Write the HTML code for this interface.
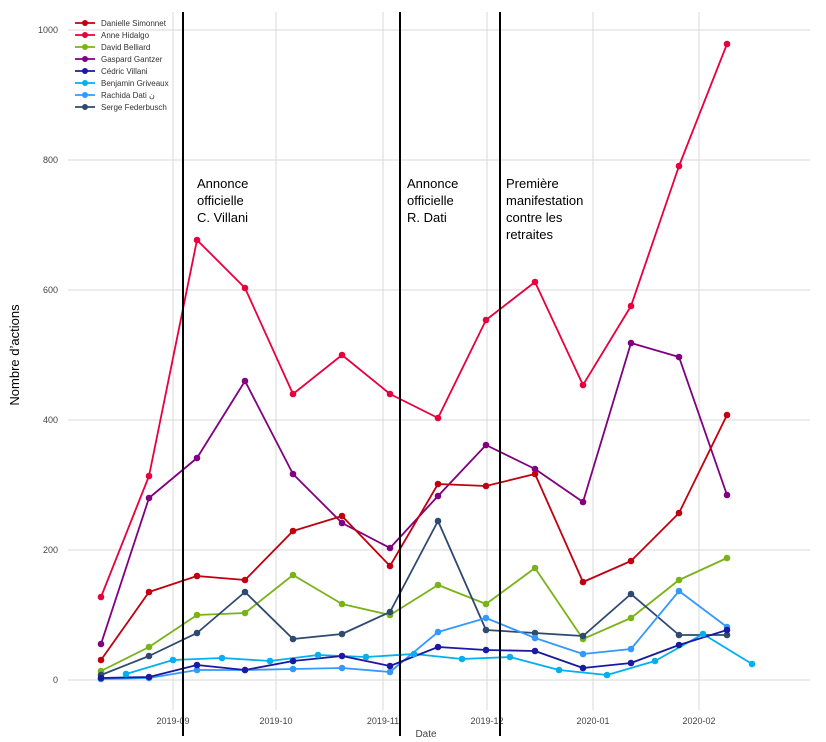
<!DOCTYPE html>
<html><head><meta charset="utf-8"><style>html,body{margin:0;padding:0;background:#fff}svg{display:block}</style></head>
<body>
<svg width="826" height="742" xmlns="http://www.w3.org/2000/svg" font-family="Liberation Sans, sans-serif">
<g stroke="#d9d9d9" stroke-width="1">
<line x1="68" y1="30" x2="810" y2="30"/><line x1="68" y1="160" x2="810" y2="160"/><line x1="68" y1="290" x2="810" y2="290"/><line x1="68" y1="420" x2="810" y2="420"/><line x1="68" y1="550" x2="810" y2="550"/><line x1="68" y1="680" x2="810" y2="680"/>
<line x1="173" y1="12" x2="173" y2="710"/><line x1="276" y1="12" x2="276" y2="710"/><line x1="383" y1="12" x2="383" y2="710"/><line x1="487" y1="12" x2="487" y2="710"/><line x1="593" y1="12" x2="593" y2="710"/><line x1="699" y1="12" x2="699" y2="710"/>
</g>
<g font-size="9" fill="#444" text-anchor="end">
<text x="58" y="33">1000</text><text x="58" y="163">800</text><text x="58" y="293">600</text><text x="58" y="423">400</text><text x="58" y="553">200</text><text x="58" y="683">0</text>
</g>
<g font-size="9" fill="#444" text-anchor="middle">
<text x="173" y="724">2019-09</text><text x="276" y="724">2019-10</text><text x="383" y="724">2019-11</text><text x="487" y="724">2019-12</text><text x="593" y="724">2020-01</text><text x="699" y="724">2020-02</text>
<text x="426" y="737" font-size="10">Date</text>
</g>
<text x="19" y="355" font-size="13" fill="#000" text-anchor="middle" transform="rotate(-90 19 355)" font-family="Liberation Sans, sans-serif">Nombre d’actions</text>
<g fill="none" stroke-width="1.8" stroke-linejoin="round">
<polyline stroke="#e8003d" points="101,597 149,476 197,240 245,288 293,394 342,355 390,394 438,418 486,320 535,282 583,385 631,306 679,166 727,44"/>
<polyline stroke="#800080" points="101,644 149,498 197,458 245,381 293,474 342,523 390,548 438,496 486,445 535,469 583,502 631,343 679,357 727,495"/>
<polyline stroke="#c00010" points="101,660 149,592 197,576 245,580 293,531 342,516 390,566 438,484 486,486 535,474 583,582 631,561 679,513 727,415"/>
<polyline stroke="#7ab317" points="101,671 149,647 197,615 245,613 293,575 342,604 390,615 438,585 486,604 535,568 583,639 631,618 679,580 727,558"/>
<polyline stroke="#2e4a70" points="101,675 149,656 197,633 245,592 293,639 342,634 390,612 438,521 486,630 535,633 583,636 631,594 679,635 727,635"/>
<polyline stroke="#00b0f0" points="126,674 173,660 222,658 270,661 318,655 366,657 414,654 462,659 510,657 559,670 607,675 655,661 703,634 752,664"/>
<polyline stroke="#3399ff" points="101,679 149,678 197,670 245,670 293,669 342,668 390,672 438,632 486,618 535,638 583,654 631,649 679,591 727,627"/>
<polyline stroke="#1a1aa0" points="101,678 149,677 197,665 245,670 293,661 342,656 390,666 438,647 486,650 535,651 583,668 631,663 679,645 727,630"/>
</g>
<g id="dots"></g>
<g stroke="#000" stroke-width="2"><line x1="183" y1="12" x2="183" y2="736"/><line x1="400" y1="12" x2="400" y2="736"/><line x1="500" y1="12" x2="500" y2="736"/></g>
<g font-size="13" fill="#000" font-family="Liberation Sans, sans-serif">
<text x="197" y="188">Annonce</text><text x="197" y="205">officielle</text><text x="197" y="222">C. Villani</text>
<text x="407" y="188">Annonce</text><text x="407" y="205">officielle</text><text x="407" y="222">R. Dati</text>
<text x="506" y="188">Première</text><text x="506" y="205">manifestation</text><text x="506" y="222">contre les</text><text x="506" y="239">retraites</text>
</g>
<g font-size="8" fill="#333" id="legend"></g>
<script>
var S=[["#c00010","Danielle Simonnet"],["#e8003d","Anne Hidalgo"],["#7ab317","David Belliard"],["#800080","Gaspard Gantzer"],["#1a1aa0","Cédric Villani"],["#00b0f0","Benjamin Griveaux"],["#3399ff","Rachida Dati ن"],["#2e4a70","Serge Federbusch"]];
var ns="http://www.w3.org/2000/svg",L=document.getElementById("legend");
S.forEach(function(s,i){var y=23+i*12;
var l=document.createElementNS(ns,"line");l.setAttribute("x1",75);l.setAttribute("x2",95);l.setAttribute("y1",y);l.setAttribute("y2",y);l.setAttribute("stroke",s[0]);l.setAttribute("stroke-width",1.8);L.appendChild(l);
var c=document.createElementNS(ns,"circle");c.setAttribute("cx",85);c.setAttribute("cy",y);c.setAttribute("r",3);c.setAttribute("fill",s[0]);L.appendChild(c);
var t=document.createElementNS(ns,"text");t.setAttribute("x",101);t.setAttribute("y",y+3);t.textContent=s[1];L.appendChild(t);});
var D=document.getElementById("dots");
document.querySelectorAll("polyline").forEach(function(p){var col=p.getAttribute("stroke");p.getAttribute("points").split(" ").forEach(function(pt){var a=pt.split(",");var c=document.createElementNS(ns,"circle");c.setAttribute("cx",a[0]);c.setAttribute("cy",a[1]);c.setAttribute("r",3.3);c.setAttribute("fill",col);D.appendChild(c);});});
</script>
</svg>
</body></html>
